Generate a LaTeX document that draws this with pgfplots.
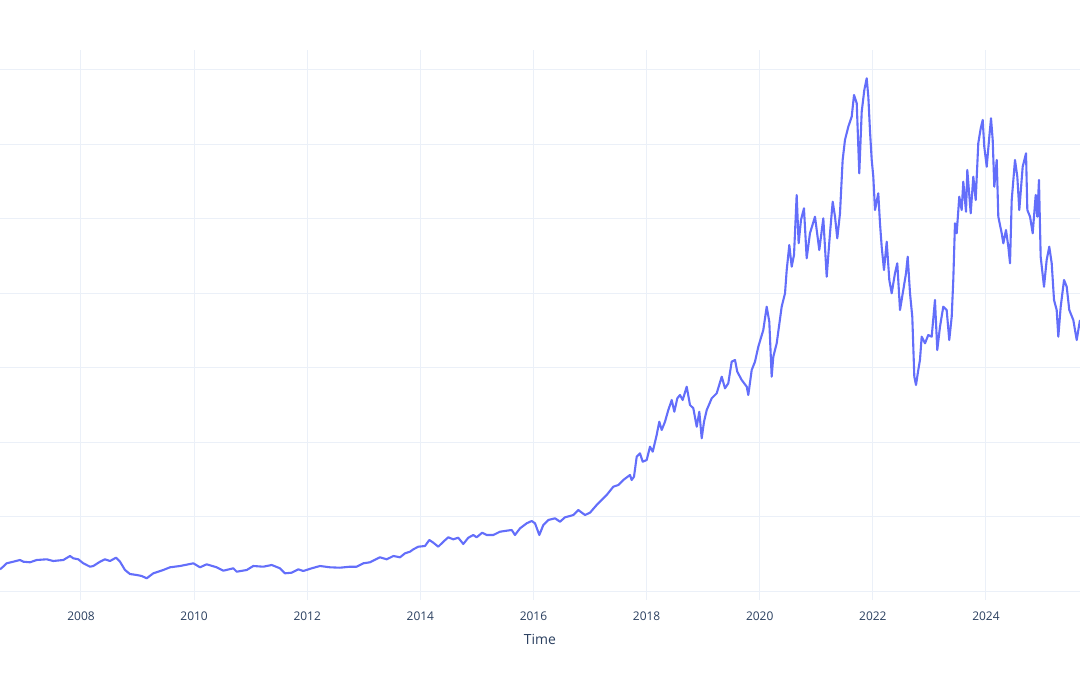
\documentclass[border=0pt]{standalone}
\usepackage{fontspec}
\setmainfont{Open Sans}
\usepackage{pgfplots}
\pgfplotsset{compat=1.18}
\usepackage{pgfplotstable}

\definecolor{gridc}{HTML}{EBF0F8}
\definecolor{linec}{HTML}{636EFA}
\definecolor{fontc}{HTML}{2A3F5F}

% daily closing level (sampled), year vs. value
\pgfplotstableread{
t v
2006.568 21.7
2006.598 23
2006.686 27.7
2006.803 29.3
2006.922 31
2006.980 29.3
2007.098 28.7
2007.217 31
2007.394 31.7
2007.510 30
2007.687 31
2007.806 35
2007.864 32.7
2007.952 31.7
2008.041 27.7
2008.159 24.3
2008.218 25
2008.336 29.3
2008.424 31.7
2008.513 30
2008.619 33.3
2008.690 29.3
2008.778 21
2008.866 17
2008.985 16
2009.073 15
2009.162 12.7
2009.278 17.7
2009.455 21
2009.574 23.7
2009.750 25
2009.927 27
2009.986 27.7
2010.104 23.7
2010.222 26.7
2010.399 23.7
2010.516 20.3
2010.693 22.7
2010.753 19.3
2010.930 21
2011.046 25
2011.223 24.3
2011.372 26
2011.518 22.7
2011.607 17.7
2011.725 18.3
2011.842 21.7
2011.930 20
2012.079 22.7
2012.225 25
2012.402 23.7
2012.579 23.3
2012.756 24.3
2012.874 24.3
2012.991 27.7
2013.109 28.7
2013.286 33.7
2013.405 31.7
2013.523 35
2013.640 33.7
2013.729 37.7
2013.817 39.3
2013.876 41.7
2013.964 44.3
2014.082 45
2014.158 51
2014.229 48.3
2014.317 44.3
2014.406 49.3
2014.494 53.7
2014.582 51.7
2014.670 53.3
2014.759 47
2014.848 53.3
2014.936 56
2014.995 53.7
2015.093 58.3
2015.172 56
2015.290 56
2015.408 59.3
2015.526 60.3
2015.615 61
2015.673 56
2015.762 62.7
2015.880 67.7
2015.968 70
2016.027 67.7
2016.103 56
2016.174 66
2016.262 71
2016.380 72.7
2016.469 69.3
2016.557 73.7
2016.645 75
2016.704 76
2016.792 81
2016.911 76
2016.999 78.3
2017.117 86
2017.206 91
2017.294 96
2017.411 104.3
2017.500 106
2017.588 111
2017.706 116
2017.736 111
2017.777 114.3
2017.825 134.3
2017.883 137.7
2017.931 129.3
2018.001 131
2018.060 144.3
2018.108 139.3
2018.178 156
2018.224 169.3
2018.267 161
2018.325 169.3
2018.384 181
2018.444 191
2018.490 179.3
2018.543 192.7
2018.590 196
2018.638 191
2018.709 204.3
2018.767 186
2018.826 182.7
2018.886 164.3
2018.932 179.3
2018.974 152.7
2019.015 169.3
2019.063 181
2019.151 192.7
2019.239 197.7
2019.328 214.3
2019.386 202.7
2019.444 207.7
2019.504 229.3
2019.563 231
2019.603 219.3
2019.681 211
2019.770 204.3
2019.798 196
2019.858 221
2019.916 229.3
2019.975 244.3
2020.063 261
2020.123 284.3
2020.169 269.3
2020.211 214.3
2020.240 234.3
2020.300 247.7
2020.388 284.3
2020.447 297.7
2020.477 321
2020.523 346
2020.565 324.3
2020.606 336
2020.653 396
2020.688 347.7
2020.729 371
2020.782 382.7
2020.830 332.7
2020.888 357.7
2020.977 374.3
2021.053 341
2021.124 372.7
2021.184 314.3
2021.242 357.7
2021.290 389.3
2021.331 374.3
2021.371 352.7
2021.419 377.7
2021.466 431
2021.507 451
2021.566 464.3
2021.626 474.3
2021.667 496
2021.715 487.7
2021.760 417.7
2021.803 479.3
2021.849 501
2021.891 512.7
2021.920 494.3
2021.950 459.3
2021.980 431
2022.008 414.3
2022.038 381
2022.096 397.7
2022.126 367.7
2022.156 344.3
2022.197 321
2022.245 349.3
2022.291 311
2022.333 297.7
2022.391 317.7
2022.432 327.7
2022.480 281
2022.538 301
2022.586 317.7
2022.616 334.3
2022.657 297.7
2022.697 274.3
2022.733 214.3
2022.763 206
2022.803 221
2022.833 231
2022.863 254.3
2022.922 247.7
2022.980 256
2023.040 254.3
2023.098 291
2023.139 241
2023.187 264.3
2023.245 284.3
2023.305 281
2023.351 251
2023.394 274.3
2023.422 311
2023.452 367.7
2023.482 357.7
2023.528 394.3
2023.570 381
2023.599 409.3
2023.647 379.3
2023.670 421
2023.730 377.7
2023.776 414.3
2023.818 391
2023.864 447.7
2023.907 462.7
2023.942 471
2023.970 444.3
2024.013 424.3
2024.059 454.3
2024.089 472.7
2024.119 451
2024.147 404.3
2024.190 431
2024.218 374.3
2024.278 357.7
2024.307 347.7
2024.354 361
2024.395 344.3
2024.425 327.7
2024.455 391
2024.513 431
2024.554 414.3
2024.589 381
2024.649 424.3
2024.708 437.7
2024.731 381
2024.779 374.3
2024.826 357.7
2024.879 396
2024.907 374.3
2024.937 411
2024.967 334.3
2025.026 304.3
2025.073 331
2025.119 344.3
2025.162 327.7
2025.203 291
2025.250 281
2025.279 254.3
2025.321 284.3
2025.380 311
2025.427 304.3
2025.473 281
2025.544 271
2025.604 251
2025.662 271
}\series

\begin{document}
\begin{tikzpicture}
\begin{axis}[
  scale only axis,
  width=1080bp, height=550bp,
  at={(0,0)}, anchor=south west,
  xmin=2006.568, xmax=2025.662,
  ymin=-9, ymax=541,
  xtick={2008,2010,...,2024},
  ytick={0,74.5,149,223.5,298,372.5,447,521.5},
  yticklabels={},
  grid=major,
  grid style={draw=gridc, line width=1bp},
  axis line style={draw=none},
  major tick length=0pt,
  /pgf/number format/1000 sep={},
  /pgf/number format/assume math mode=true,
  tick label style={font=\fontsize{12}{14}\selectfont, text=fontc},
  xticklabel style={yshift=-8bp},
  xlabel={Time},
  xlabel style={font=\fontsize{14}{16}\selectfont, text=fontc, yshift=-7bp},
  clip=true,
]
\addplot[color=linec, line width=2.1bp, line join=round] table[x=t, y=v] {\series};
\end{axis}
\pgfresetboundingbox
\path (0,-75bp) rectangle (1080bp,600bp);
\end{tikzpicture}
\end{document}
